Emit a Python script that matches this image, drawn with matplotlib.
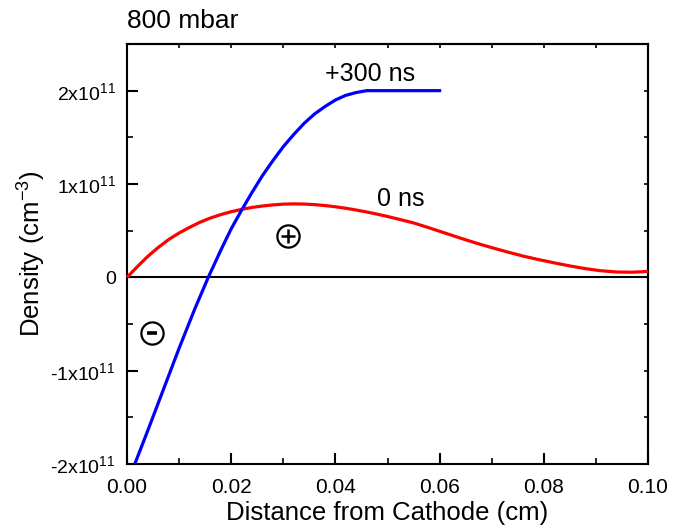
import matplotlib
matplotlib.use("Agg")
import matplotlib.pyplot as plt
from matplotlib.ticker import MultipleLocator
import numpy as np

plt.rcParams['font.family'] = ['Liberation Sans', 'DejaVu Sans']
plt.rcParams['mathtext.fontset'] = 'custom'
plt.rcParams['mathtext.rm'] = 'Liberation Sans'
plt.rcParams['mathtext.it'] = 'Liberation Sans'

# Data, density in units of 1e11 cm^-3
red_x = [0.0, 0.002, 0.004, 0.006, 0.008, 0.010, 0.012, 0.014, 0.016, 0.018, 0.020, 0.022, 0.024,
         0.026, 0.028, 0.030, 0.032, 0.034, 0.036, 0.038, 0.040, 0.042, 0.044, 0.046, 0.048, 0.050,
         0.052, 0.055, 0.058, 0.061, 0.064, 0.067, 0.070, 0.073, 0.076, 0.079, 0.082, 0.085, 0.088,
         0.091, 0.094, 0.097, 0.100]
red_y = [0.0, 0.115, 0.225, 0.32, 0.405, 0.475, 0.535, 0.59, 0.635, 0.672, 0.703, 0.728, 0.749,
         0.764, 0.776, 0.784, 0.787, 0.785, 0.779, 0.769, 0.756, 0.740, 0.721, 0.700, 0.677, 0.652,
         0.625, 0.583, 0.53, 0.475, 0.42, 0.367, 0.318, 0.272, 0.228, 0.19, 0.155, 0.122, 0.093,
         0.07, 0.057, 0.055, 0.063]

blue_x = [0.0015, 0.004, 0.007, 0.010, 0.013, 0.0156, 0.018, 0.020, 0.022, 0.024, 0.026, 0.028,
          0.030, 0.032, 0.034, 0.036, 0.038, 0.040, 0.042, 0.044, 0.046, 0.060]
blue_y = [-2.00, -1.64, -1.20, -0.76, -0.34, 0.0, 0.29, 0.52, 0.72, 0.91, 1.09, 1.25,
          1.40, 1.53, 1.65, 1.75, 1.83, 1.90, 1.95, 1.98, 2.00, 2.00]

y_ticks = [-2e11, -1e11, 0, 1e11, 2e11]
y_tick_labels = ["-2x10$^{11}$", "-1x10$^{11}$", "0", "1x10$^{11}$", "2x10$^{11}$"]
x_ticks = [0.0, 0.02, 0.04, 0.06, 0.08, 0.10]
x_tick_labels = ["0.00", "0.02", "0.04", "0.06", "0.08", "0.10"]

scale = 1e11
fig = plt.figure(figsize=(6.85, 5.28), dpi=100)
ax = fig.add_axes([0.1854, 0.1212, 0.7606, 0.7955])

ax.axhline(0, color='black', lw=1.5, zorder=1)
ax.plot(red_x, np.array(red_y) * scale, color='#ff0000', lw=2.3, zorder=3, clip_on=False,
        solid_capstyle='butt')
ax.plot(blue_x, np.array(blue_y) * scale, color='#0000ff', lw=2.3, zorder=3)

ax.set_xlim(0, 0.10)
ax.set_ylim(-2e11, 2.5e11)

ax.set_xticks(x_ticks)
ax.set_xticklabels(x_tick_labels)
ax.set_yticks(y_ticks)
ax.set_yticklabels(y_tick_labels)
ax.xaxis.set_minor_locator(MultipleLocator(0.01))
ax.yaxis.set_minor_locator(MultipleLocator(0.5e11))

ax.tick_params(which='major', direction='in', length=8, width=1.5)
ax.tick_params(which='minor', direction='in', length=4.5, width=1.2)
ax.tick_params(axis='x', which='major', pad=10, labelsize=15)
ax.tick_params(axis='y', which='major', pad=8, labelsize=14)
ax.tick_params(which='both', top=False, right=False)

# top/right small ticks
axt = ax.secondary_xaxis('top')
axt.set_xticks(np.arange(0, 0.1001, 0.01))
axt.tick_params(direction='in', length=3, width=1.2, labeltop=False)
axt.set_xticklabels([])
axr = ax.secondary_yaxis('right')
axr.set_yticks(np.arange(-2e11, 2.51e11, 0.5e11))
axr.tick_params(direction='in', length=3, width=1.2, labelright=False)
axr.set_yticklabels([])

for s in ax.spines.values():
    s.set_linewidth(1.5)
axt.spines['top'].set_linewidth(1.5)
axr.spines['right'].set_linewidth(1.5)

ax.set_xlabel("Distance from Cathode (cm)", fontsize=18.5, labelpad=3)
ax.set_ylabel("Density (cm$^{-3}$)", fontsize=18.5)
ax.yaxis.set_label_coords(-0.152, 0.5)

ax.text(0.0, 1.025, "800 mbar", transform=ax.transAxes, fontsize=19, ha='left', va='bottom')
ax.text(0.0466, 2.18e11, "+300 ns", fontsize=18, ha='center', va='center')
ax.text(0.0526, 0.84e11, "0 ns", fontsize=18, ha='center', va='center')

ax.plot([0.0309], [0.44e11], marker='o', ms=16, mfc='none', mec='black', mew=1.6, zorder=4)
ax.plot([0.0309], [0.44e11], marker='+', ms=10, mec='black', mew=1.8, zorder=4)
ax.plot([0.0048], [-0.6e11], marker='o', ms=16, mfc='none', mec='black', mew=1.6, zorder=4)
ax.plot([0.0048], [-0.6e11], marker='_', ms=7, mec='black', mew=2.6, zorder=4)

fig.savefig("out.png", dpi=100)
